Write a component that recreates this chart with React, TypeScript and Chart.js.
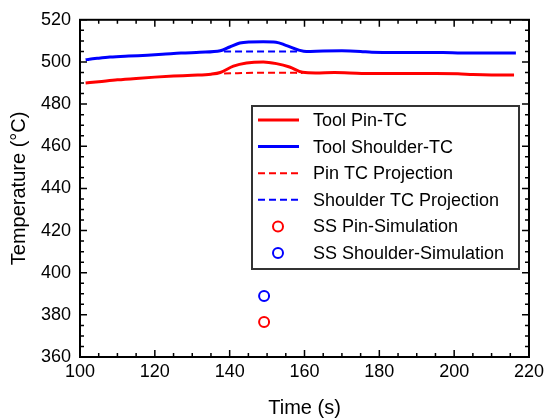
import { useEffect, useRef } from "react";
import { Chart, registerables, type Plugin } from "chart.js";

Chart.register(...registerables);

const FONT = "'Liberation Sans', Arial, Helvetica, sans-serif";

// measured thermocouple data (time in s, temperature in °C)
const pinTime = [101.5, 105, 110, 115, 120, 125, 130, 135, 137.5, 141, 144.5, 149, 152.5, 156, 159.5, 163, 168, 172, 178, 185, 195, 201, 205, 210, 216];
const pinTemp = [490.0, 490.6, 491.5, 492.2, 492.8, 493.3, 493.7, 494.2, 495.0, 498.0, 499.5, 500.0, 499.2, 497.6, 495.1, 494.8, 495.0, 494.8, 494.5, 494.5, 494.5, 494.4, 494.0, 493.8, 493.8];

const shoulderTime = [101.5, 102.5, 105, 108, 113, 118, 122, 127, 132, 137.5, 140, 142.7, 145.3, 149, 152.4, 155, 158.7, 160.5, 165, 170, 175, 178, 185, 197, 202, 210, 216.5];
const shoulderTemp = [501.0, 501.3, 501.8, 502.3, 502.8, 503.2, 503.6, 504.2, 504.6, 505.3, 507.1, 509.0, 509.5, 509.6, 509.4, 507.9, 505.5, 504.9, 505.2, 505.3, 505.0, 504.6, 504.5, 504.5, 504.2, 504.2, 504.2];

// projections across the disturbed region
const pinProjTime = [138.5, 149, 159.5];
const pinProjTemp = [494.5, 494.9, 494.8];
const shoulderProjTime = [138.5, 159];
const shoulderProjTemp = [505.0, 505.0];

// steady-state simulation points
const simTime = [149.2];
const pinSim = [376.6];
const shoulderSim = [389.0];

const xMin = 100;
const xMax = 220;
const xStep = 20;
const yMin = 360;
const yMax = 520;
const yStep = 20;
const minorStep = 5;

const RED = "#ff0000";
const BLUE = "#0000ff";

const pts = (xs: number[], ys: number[]) => xs.map((x, i) => ({ x, y: ys[i] }));

const framePlugin: Plugin = {
  id: "frame",
  afterDraw(chart) {
    const { ctx, chartArea: a, scales } = chart;
    const sx = scales.x;
    const sy = scales.y;
    ctx.save();
    ctx.strokeStyle = "#000";
    ctx.lineWidth = 2;
    ctx.strokeRect(a.left, a.top, a.right - a.left, a.bottom - a.top);

    ctx.lineWidth = 1.5;
    ctx.beginPath();
    for (let v = xMin; v <= xMax; v += minorStep) {
      const px = sx.getPixelForValue(v);
      const len = (v - xMin) % xStep === 0 ? 7 : 4;
      ctx.moveTo(px, a.bottom);
      ctx.lineTo(px, a.bottom - len);
      ctx.moveTo(px, a.top);
      ctx.lineTo(px, a.top + len);
    }
    for (let v = yMin; v <= yMax; v += minorStep) {
      const py = sy.getPixelForValue(v);
      const len = (v - yMin) % yStep === 0 ? 7 : 4;
      ctx.moveTo(a.left, py);
      ctx.lineTo(a.left + len, py);
      ctx.moveTo(a.right, py);
      ctx.lineTo(a.right - len, py);
    }
    ctx.stroke();

    // legend box
    const bx = 252;
    const by = 106;
    const bw = 267;
    const bh = 163;
    ctx.fillStyle = "#fff";
    ctx.fillRect(bx, by, bw, bh);
    ctx.strokeStyle = "#333";
    ctx.lineWidth = 2;
    ctx.strokeRect(bx, by, bw, bh);

    ctx.font = `18px ${FONT}`;
    ctx.textBaseline = "middle";
    ctx.textAlign = "left";
    chart.data.datasets.forEach((ds: any, i) => {
      const ry = 120 + i * 26.6;
      const color = ds.borderColor as string;
      ctx.strokeStyle = color;
      if (ds.showLine === false) {
        ctx.setLineDash([]);
        ctx.lineWidth = 2;
        ctx.beginPath();
        ctx.arc(278, ry, 5, 0, Math.PI * 2);
        ctx.stroke();
      } else {
        ctx.lineWidth = ds.borderWidth;
        ctx.setLineDash(ds.borderDash || []);
        ctx.beginPath();
        ctx.moveTo(258, ry);
        ctx.lineTo(299, ry);
        ctx.stroke();
        ctx.setLineDash([]);
      }
      ctx.fillStyle = "#000";
      ctx.fillText(ds.label, 313, ry + 1);
    });
    ctx.restore();
  },
};

export default function App() {
  const canvasRef = useRef<HTMLCanvasElement | null>(null);

  useEffect(() => {
    if (!canvasRef.current) return;
    const chart = new Chart(canvasRef.current, {
      type: "line",
      data: {
        datasets: [
          { label: "Tool Pin-TC", data: pts(pinTime, pinTemp), borderColor: RED, borderWidth: 3, pointRadius: 0, cubicInterpolationMode: "monotone" },
          { label: "Tool Shoulder-TC", data: pts(shoulderTime, shoulderTemp), borderColor: BLUE, borderWidth: 3, pointRadius: 0, cubicInterpolationMode: "monotone" },
          { label: "Pin TC Projection", data: pts(pinProjTime, pinProjTemp), borderColor: RED, borderWidth: 2, borderDash: [7, 4], pointRadius: 0, cubicInterpolationMode: "monotone" },
          { label: "Shoulder TC Projection", data: pts(shoulderProjTime, shoulderProjTemp), borderColor: BLUE, borderWidth: 2, borderDash: [7, 4], pointRadius: 0 },
          { label: "SS Pin-Simulation", data: pts(simTime, pinSim), borderColor: RED, backgroundColor: "rgba(0,0,0,0)", showLine: false, pointRadius: 5, pointBorderWidth: 2 },
          { label: "SS Shoulder-Simulation", data: pts(simTime, shoulderSim), borderColor: BLUE, backgroundColor: "rgba(0,0,0,0)", showLine: false, pointRadius: 5, pointBorderWidth: 2 },
        ],
      },
      options: {
        responsive: false,
        animation: false,
        layout: { padding: { top: 19, right: 21, left: 0, bottom: 0 } },
        plugins: { legend: { display: false }, tooltip: { enabled: false } },
        scales: {
          x: {
            type: "linear",
            min: xMin,
            max: xMax,
            afterFit: (s) => { s.height = 62; },
            ticks: { stepSize: xStep, color: "#000", padding: 4, font: { family: FONT, size: 18 } },
            grid: { display: false, drawTicks: false },
            border: { display: false },
            title: { display: true, text: "Time (s)", color: "#000", font: { family: FONT, size: 20, lineHeight: 1 }, padding: { top: 0, bottom: 0.5 } },
          },
          y: {
            type: "linear",
            min: yMin,
            max: yMax,
            afterFit: (s) => { s.width = 80; },
            ticks: { stepSize: yStep, color: "#000", padding: 9, font: { family: FONT, size: 18 } },
            grid: { display: false, drawTicks: false },
            border: { display: false },
            title: { display: true, text: "Temperature (°C)", color: "#000", font: { family: FONT, size: 20, lineHeight: 1.2 }, padding: { top: 7.5, bottom: 0 } },
          },
        },
      },
      plugins: [framePlugin],
    });
    return () => chart.destroy();
  }, []);

  return (
    <div style={{ position: "absolute", left: 0, top: 0, width: 550, height: 419, background: "#fff" }}>
      <canvas ref={canvasRef} width={550} height={419} />
    </div>
  );
}
